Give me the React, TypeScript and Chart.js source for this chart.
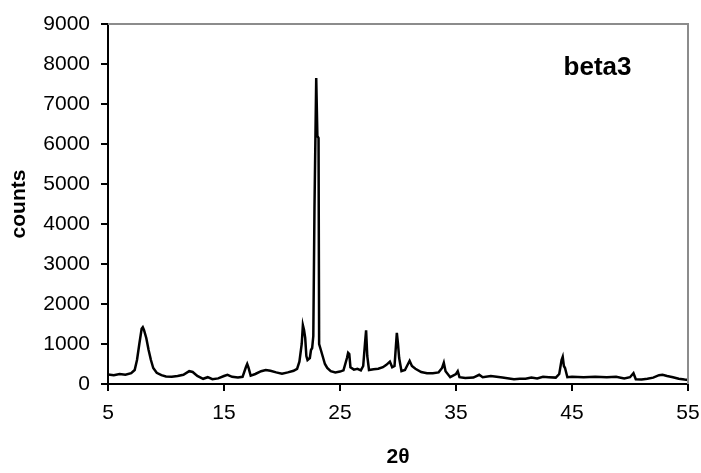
import React, { useEffect, useRef } from "react";
import { Chart, registerables } from "chart.js";

Chart.register(...registerables);

const twoTheta = [
  5.0, 5.5, 6.0, 6.5, 7.0, 7.3, 7.5, 7.7, 7.9, 8.0, 8.1, 8.3, 8.5, 8.7, 8.9, 9.2, 9.6, 10.0, 10.5, 11.0,
  11.5, 12.0, 12.3, 12.7, 13.2, 13.6, 14.0, 14.5, 15.0, 15.3, 15.7, 16.2, 16.6, 16.9, 17.0, 17.1, 17.3, 17.7, 18.2, 18.6,
  19.0, 19.5, 20.0, 20.5, 21.0, 21.3, 21.5, 21.7, 21.8, 21.9, 22.0, 22.1, 22.2, 22.4, 22.5, 22.6, 22.7, 22.8, 22.95, 23.05,
  23.15, 23.2, 23.3, 23.5, 23.7, 23.9, 24.2, 24.6, 25.0, 25.3, 25.6, 25.7, 25.8, 25.9, 26.2, 26.5, 26.8, 27.0, 27.15, 27.25,
  27.35, 27.5, 27.9, 28.3, 28.7, 29.0, 29.3, 29.5, 29.7, 29.9, 30.0, 30.1, 30.3, 30.6, 31.0, 31.2, 31.5, 32.0, 32.5, 33.0,
  33.5, 33.8, 33.95, 34.1, 34.5, 35.0, 35.15, 35.3, 35.8, 36.5, 37.0, 37.3, 38.0, 38.5, 39.0, 40.0, 40.5, 41.0, 41.5, 42.0,
  42.5, 43.0, 43.6, 43.9, 44.1, 44.2, 44.3, 44.4, 44.6, 45.0, 46.0, 47.0, 48.0, 48.8, 49.5, 50.0, 50.3, 50.5, 51.0, 51.5,
  52.0, 52.5, 52.8, 53.2, 53.7, 54.2, 54.7, 55.0,
];

const counts = [
  240, 220, 250, 230, 270, 350, 600, 1000, 1380, 1420, 1350, 1150, 850, 600, 400, 280, 220, 190, 180, 200,
  230, 320, 300, 200, 130, 170, 120, 140, 200, 230, 180, 160, 180, 430, 500, 420, 210, 250, 320, 350,
  330, 290, 260, 290, 330, 380, 560, 1000, 1470, 1350, 1150, 700, 600, 650, 850, 900, 1200, 4400, 7650, 6200,
  6150, 1000, 900, 700, 500, 400, 320, 290, 310, 340, 650, 780, 750, 420, 360, 380, 340, 450, 1000, 1340,
  700, 350, 370, 380, 420, 480, 560, 420, 450, 1280, 1000, 650, 320, 350, 580, 450, 380, 300, 270, 270,
  290, 400, 530, 320, 170, 250, 320, 170, 150, 160, 230, 170, 200, 180, 160, 120, 130, 130, 160, 140,
  180, 170, 160, 250, 600, 680, 450, 400, 170, 180, 170, 180, 170, 180, 140, 170, 270, 120, 110, 130,
  160, 220, 230, 200, 170, 130, 110, 100,
];

const xTicks = [5, 15, 25, 35, 45, 55];
const yTicks = [0, 1000, 2000, 3000, 4000, 5000, 6000, 7000, 8000, 9000];
const sampleLabel = "beta3";
const xTitle = "2θ";
const yTitle = "counts";

const FONT = "'Liberation Sans', Arial, sans-serif";

export default function App() {
  const ref = useRef<HTMLCanvasElement | null>(null);

  useEffect(() => {
    if (!ref.current) return;
    const points = twoTheta.map((x, i) => ({ x, y: counts[i] }));

    const framePlugin = {
      id: "frame",
      afterDatasetsDraw(chart: any) {
        const { ctx, chartArea, scales } = chart;
        ctx.save();
        ctx.strokeStyle = "#8c8c8c";
        ctx.lineWidth = 2;
        ctx.beginPath();
        ctx.moveTo(chartArea.left, chartArea.top);
        ctx.lineTo(chartArea.right, chartArea.top);
        ctx.lineTo(chartArea.right, chartArea.bottom);
        ctx.stroke();
        ctx.fillStyle = "#000";
        ctx.font = `bold 26px ${FONT}`;
        ctx.textAlign = "center";
        ctx.textBaseline = "middle";
        ctx.fillText(sampleLabel, scales.x.getPixelForValue(47.2), scales.y.getPixelForValue(7900));
        ctx.restore();
      },
    };

    const chart = new Chart(ref.current, {
      type: "line",
      data: {
        datasets: [
          {
            data: points,
            borderColor: "#000",
            borderWidth: 2.5,
            pointRadius: 0,
            tension: 0,
            fill: false,
          },
        ],
      },
      options: {
        animation: false,
        responsive: false,
        maintainAspectRatio: false,
        layout: { padding: { top: 24, right: 13, left: 0, bottom: 0 } },
        plugins: { legend: { display: false }, tooltip: { enabled: false } },
        scales: {
          x: {
            type: "linear",
            min: 5,
            max: 55,
            afterBuildTicks: (scale: any) => {
              scale.ticks = xTicks.map((v) => ({ value: v }));
            },
            afterFit: (scale: any) => {
              scale.height = 89;
              scale.paddingLeft = 0;
              scale.paddingRight = 0;
            },
            ticks: {
              color: "#000",
              font: { family: FONT, size: 21 },
              padding: 10,
              maxRotation: 0,
              autoSkip: false,
              callback: (v: any) => String(v),
            },
            grid: {
              display: true,
              drawOnChartArea: false,
              drawTicks: true,
              tickLength: 7,
              color: "#000",
              lineWidth: 2,
            },
            border: { display: true, color: "#000", width: 2 },
            title: {
              display: true,
              text: xTitle,
              color: "#000",
              font: { family: FONT, size: 21, weight: "bold" },
              padding: { top: 0, bottom: 3 },
            },
          },
          y: {
            type: "linear",
            min: 0,
            max: 9000,
            afterBuildTicks: (scale: any) => {
              scale.ticks = yTicks.map((v) => ({ value: v }));
            },
            afterFit: (scale: any) => {
              scale.width = 108;
              scale.paddingTop = 0;
              scale.paddingBottom = 0;
            },
            ticks: {
              color: "#000",
              font: { family: FONT, size: 21 },
              padding: 11,
              autoSkip: false,
              callback: (v: any) => String(v),
            },
            grid: {
              display: true,
              drawOnChartArea: false,
              drawTicks: true,
              tickLength: 7,
              color: "#000",
              lineWidth: 2,
            },
            border: { display: true, color: "#000", width: 2 },
            title: {
              display: true,
              text: yTitle,
              color: "#000",
              font: { family: FONT, size: 21, weight: "bold" },
              padding: { top: 7, bottom: 0 },
            },
          },
        },
      },
      plugins: [framePlugin],
    });

    return () => chart.destroy();
  }, []);

  return (
    <div style={{ position: "absolute", left: 0, top: 0, width: 701, height: 473, background: "#fff" }}>
      <canvas ref={ref} width={701} height={473} style={{ display: "block" }} />
    </div>
  );
}
